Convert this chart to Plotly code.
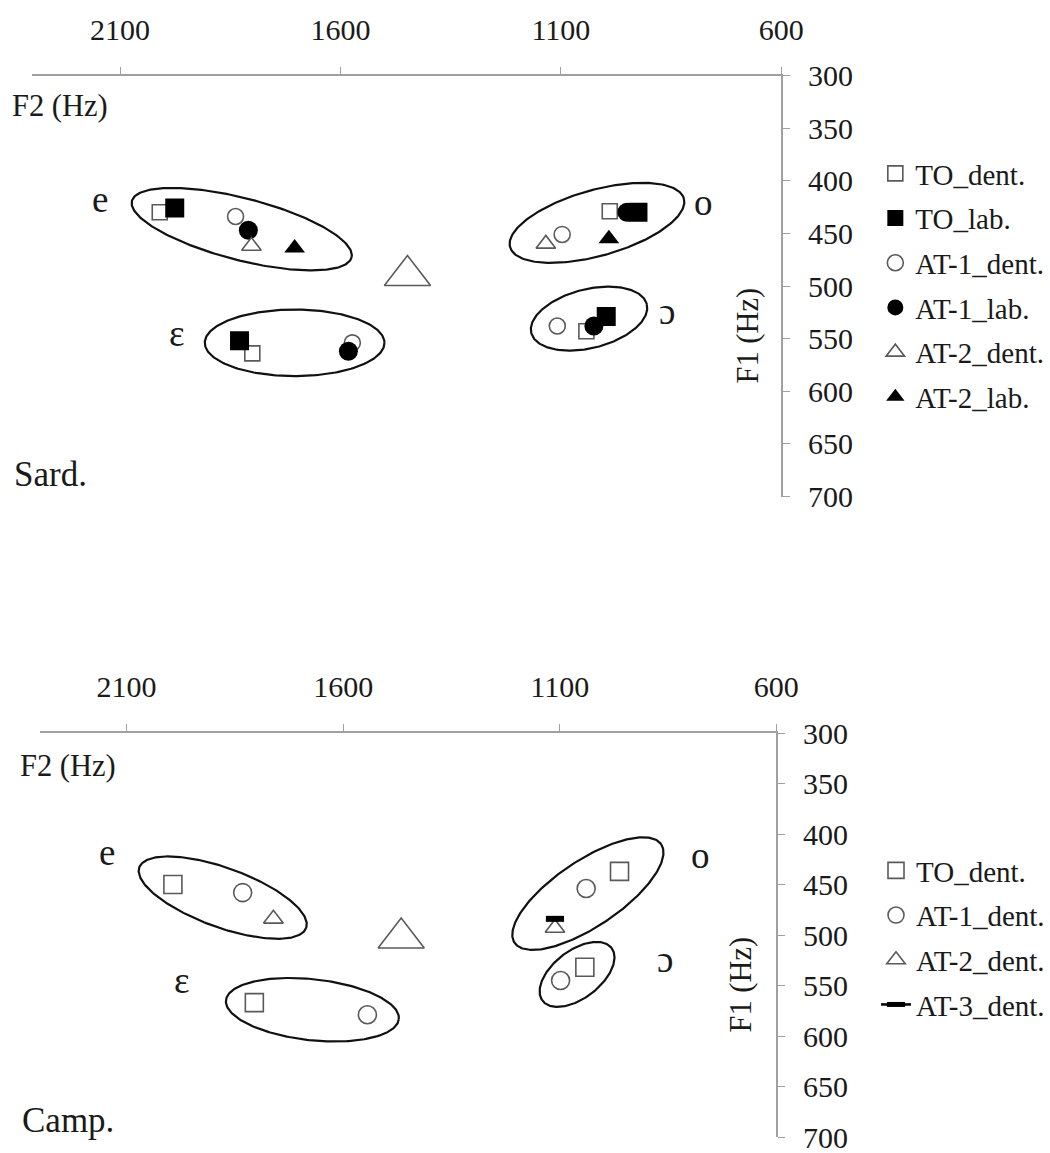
import numpy as np
import plotly.graph_objects as go

FIG_W, FIG_H = 1050, 1153

# ---------------- axes ----------------
F2_RANGE = [2300, 600]          # F2 runs right-to-left
F1_RANGE = [700, 300]           # F1 runs top-to-bottom
F2_TICKS = [2100, 1600, 1100, 600]
F1_TICKS = [300, 350, 400, 450, 500, 550, 600, 650, 700]

# ---------------- vowel labels (same place in both panels) ----------------
vowel_labels = ["e", "ɛ", "o", "ɔ"]
vowel_label_f2 = [2145, 1972, 776, 858]
vowel_label_f1 = [418, 545, 421, 524]

# ---------------- Sard. panel (order: e, ɛ, o, ɔ) ----------------
sard_to_dent_f2 = [2010, 1800, 989, 1042]
sard_to_dent_f1 = [430, 564, 429, 543]
sard_to_lab_f2 = [1976, 1829, 925, 997]
sard_to_lab_f1 = [426, 552, 430, 529]
sard_at1_dent_f2 = [1838, 1573, 1097, 1108]
sard_at1_dent_f1 = [434, 554, 451, 538]
sard_at1_lab_f2 = [1809, 1582, 950, 1025]
sard_at1_lab_f1 = [447, 562, 430, 538]
sard_at2_dent_f2 = [1802, 1134]          # e, o
sard_at2_dent_f1 = [462, 460]
sard_at2_lab_f2 = [1704, 991]            # e, o
sard_at2_lab_f1 = [464, 455]
sard_centre_f2 = [1448]
sard_centre_f1 = [490]

# ---------------- Camp. panel (order: e, ɛ, o, ɔ) ----------------
camp_to_dent_f2 = [1993, 1805, 962, 1042]
camp_to_dent_f1 = [450, 567, 437, 532]
camp_at1_dent_f2 = [1832, 1544, 1039, 1098]
camp_at1_dent_f1 = [458, 579, 454, 545]
camp_at2_dent_f2 = [1761, 1111]          # e, o
camp_at2_dent_f1 = [484, 493]
camp_at3_dent_f2 = [1111]                # o
camp_at3_dent_f1 = [484]
camp_centre_f2 = [1466]
camp_centre_f1 = [503]

# ---------------- group outlines: centre (Hz), semi-axes (px), tilt (deg) ----------------
sard_outlines = [
    (1824, 446, 113.6, 31.0, 14.4),
    (1704, 554, 90.0, 33.3, 0.0),
    (1018, 440, 90.4, 33.0, -15.6),
    (1036, 531, 59.6, 29.5, -13.9),
]
camp_outlines = [
    (1878, 463, 88.9, 29.7, 19.9),
    (1671, 574, 87.1, 30.5, 6.2),
    (1035, 459, 88.4, 33.0, -33.8),
    (1060, 539, 43.5, 23.9, -37.3),
]

# ---------------- layout geometry (pixels) ----------------
PANEL_TOP = dict(x0=32, x1=782.7, y0=75.5, y1=496.5)
PANEL_BOT = dict(x0=40, x1=777.8, y0=733, y1=1137)

FONT = "Liberation Serif, Times New Roman, serif"
TXT = "#1a1a1a"
AXIS_GREY = "#a0a0a0"
OPEN_GREY = "#5a5a5a"


def domains(p):
    xd = [p["x0"] / FIG_W, p["x1"] / FIG_W]
    yd = [1 - p["y1"] / FIG_H, 1 - p["y0"] / FIG_H]
    return xd, yd


def scales(p):
    sx = (p["x1"] - p["x0"]) / abs(F2_RANGE[0] - F2_RANGE[1])
    sy = (p["y1"] - p["y0"]) / abs(F1_RANGE[0] - F1_RANGE[1])
    return sx, sy


def ellipse(cf2, cf1, a, b, ang, sx, sy, n=241):
    t = np.linspace(0, 2 * np.pi, n)
    th = np.radians(ang)
    dx = a * np.cos(t) * np.cos(th) - b * np.sin(t) * np.sin(th)
    dy = a * np.cos(t) * np.sin(th) + b * np.sin(t) * np.cos(th)
    return cf2 - dx / sx, cf1 + dy / sy


fig = go.Figure()


def add_outlines(outlines, panel, xa, ya):
    sx, sy = scales(panel)
    for cf2, cf1, a, b, ang in outlines:
        ex, ey = ellipse(cf2, cf1, a, b, ang, sx, sy)
        fig.add_trace(go.Scatter(
            x=ex, y=ey, mode="lines", xaxis=xa, yaxis=ya,
            line=dict(color="#111111", width=2.2),
            showlegend=False, hoverinfo="skip"))


def open_marker(symbol, size):
    return dict(symbol=symbol, size=size, color="white",
                line=dict(color=OPEN_GREY, width=1.6))


def solid_marker(symbol, size):
    return dict(symbol=symbol, size=size, color="black",
                line=dict(color="black", width=0))


add_outlines(sard_outlines, PANEL_TOP, "x", "y")
add_outlines(camp_outlines, PANEL_BOT, "x2", "y2")

# centre markers (no legend entry)
fig.add_trace(go.Scatter(x=sard_centre_f2, y=sard_centre_f1, mode="markers",
                         xaxis="x", yaxis="y", showlegend=False,
                         marker=open_marker("triangle-up", 40)))
fig.add_trace(go.Scatter(x=camp_centre_f2, y=camp_centre_f1, mode="markers",
                         xaxis="x2", yaxis="y2", showlegend=False,
                         marker=open_marker("triangle-up", 40)))

# Sard. series
sard_series = [
    ("TO_dent.", sard_to_dent_f2, sard_to_dent_f1, open_marker("square", 15)),
    ("TO_lab.", sard_to_lab_f2, sard_to_lab_f1, solid_marker("square", 19)),
    ("AT-1_dent.", sard_at1_dent_f2, sard_at1_dent_f1, open_marker("circle", 16)),
    ("AT-1_lab.", sard_at1_lab_f2, sard_at1_lab_f1, solid_marker("circle", 19)),
    ("AT-2_dent.", sard_at2_dent_f2, sard_at2_dent_f1, open_marker("triangle-up", 17)),
    ("AT-2_lab.", sard_at2_lab_f2, sard_at2_lab_f1, solid_marker("triangle-up", 18)),
]
for name, xs, ys, mk in sard_series:
    fig.add_trace(go.Scatter(x=xs, y=ys, mode="markers", name=name,
                             legendgroup="s_" + name, legend="legend",
                             xaxis="x", yaxis="y", marker=mk))

# Camp. series
camp_series = [
    ("TO_dent.", camp_to_dent_f2, camp_to_dent_f1, open_marker("square", 18)),
    ("AT-1_dent.", camp_at1_dent_f2, camp_at1_dent_f1, open_marker("circle", 18)),
    ("AT-2_dent.", camp_at2_dent_f2, camp_at2_dent_f1, open_marker("triangle-up", 17)),
]
for name, xs, ys, mk in camp_series:
    fig.add_trace(go.Scatter(x=xs, y=ys, mode="markers", name=name,
                             legendgroup="c_" + name, legend="legend2",
                             xaxis="x2", yaxis="y2", marker=mk))
fig.add_trace(go.Scatter(
    x=camp_at3_dent_f2, y=camp_at3_dent_f1, mode="lines+markers", name="AT-3_dent.",
    legendgroup="c_AT-3", legend="legend2", xaxis="x2", yaxis="y2",
    line=dict(color="black", width=2.5),
    marker=dict(symbol="line-ew", size=13, color="black",
                line=dict(color="black", width=6))))

# ---------------- axes ----------------
TICK_FONT = dict(family=FONT, size=30, color=TXT)


def xaxis_cfg(panel, anchor):
    xd, _ = domains(panel)
    return dict(domain=xd, range=F2_RANGE, side="top", anchor=anchor,
                tickmode="array", tickvals=F2_TICKS, ticks="outside", ticklen=7,
                tickcolor=AXIS_GREY, showline=True, linecolor=AXIS_GREY, linewidth=1.5,
                showgrid=False, zeroline=False, ticklabelstandoff=15,
                tickfont=TICK_FONT, automargin=False, ticklabeloverflow="allow")


def yaxis_cfg(panel, anchor):
    _, yd = domains(panel)
    return dict(domain=yd, range=F1_RANGE, side="right", anchor=anchor,
                tickmode="array", tickvals=F1_TICKS, ticks="outside", ticklen=7,
                tickcolor=AXIS_GREY, showline=True, linecolor=AXIS_GREY, linewidth=1.5,
                showgrid=False, zeroline=False, ticklabelstandoff=12,
                tickfont=TICK_FONT, automargin=False, ticklabeloverflow="allow")


annotations = []
for xr, yr in (("x", "y"), ("x2", "y2")):
    for lab, f2, f1 in zip(vowel_labels, vowel_label_f2, vowel_label_f1):
        annotations.append(dict(text=lab, x=f2, y=f1, xref=xr, yref=yr,
                                showarrow=False, xanchor="center", yanchor="middle",
                                font=dict(family=FONT, size=37, color=TXT)))


def paper_text(text, px, py, size, angle=0, xanchor="left"):
    return dict(text=text, x=px / FIG_W, y=1 - py / FIG_H, xref="paper", yref="paper",
                showarrow=False, xanchor=xanchor, yanchor="middle", textangle=angle,
                font=dict(family=FONT, size=size, color=TXT))


annotations += [
    paper_text("F2 (Hz)", 10, 106, 30.5),
    paper_text("F2 (Hz)", 18, 766, 30.5),
    paper_text("F1 (Hz)", 749, 336, 30.5, angle=-90, xanchor="center"),
    paper_text("F1 (Hz)", 742, 985, 30.5, angle=-90, xanchor="center"),
    paper_text("Sard.", 12, 474, 35),
    paper_text("Camp.", 20, 1120, 35),
]

legend_common = dict(font=dict(family=FONT, size=29, color=TXT), bgcolor="rgba(0,0,0,0)",
                     borderwidth=0, tracegroupgap=4, xanchor="left", yanchor="top",
                     itemclick=False, itemdoubleclick=False)

fig.update_layout(
    width=FIG_W, height=FIG_H,
    margin=dict(l=0, r=0, t=0, b=0),
    paper_bgcolor="white", plot_bgcolor="white",
    xaxis=xaxis_cfg(PANEL_TOP, "y"),
    yaxis=yaxis_cfg(PANEL_TOP, "x"),
    xaxis2=xaxis_cfg(PANEL_BOT, "y2"),
    yaxis2=yaxis_cfg(PANEL_BOT, "x2"),
    legend=dict(x=877 / FIG_W, y=1 - 148 / FIG_H, **legend_common),
    legend2=dict(x=878 / FIG_W, y=1 - 845 / FIG_H, **legend_common),
    annotations=annotations,
    showlegend=True,
)

fig.write_html("out.html")
